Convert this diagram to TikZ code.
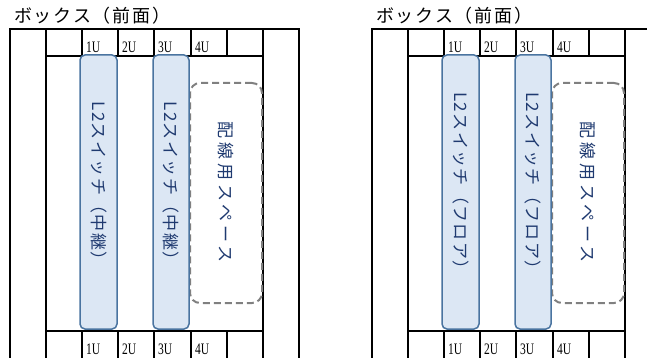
\documentclass[tikz,border=0pt]{standalone}
\usepackage{fontspec}
\newfontfamily\jpfont[LetterSpace=8]{Noto Sans CJK JP}
\newfontfamily\wirefont[LetterSpace=24]{Noto Sans CJK JP}
\newfontfamily\titlefont[LetterSpace=10]{Noto Sans CJK JP}
\newfontfamily\ufont{Liberation Serif}
\definecolor{swfill}{HTML}{DCE7F4}
\definecolor{swline}{HTML}{4A74A0}
\definecolor{txtblue}{HTML}{1F3A70}
\definecolor{dashgray}{HTML}{808080}
\begin{document}
\begin{tikzpicture}[x=1pt,y=-1pt,
  frame/.style={line width=2pt, black, line join=miter},
  switchbox/.style={draw=swline, fill=swfill, line width=1.5pt, rounded corners=5pt, inner sep=0pt},
  wirebox/.style={draw=dashgray, dash pattern=on 7pt off 4pt, line width=2pt, rounded corners=10pt, inner sep=0pt},
  vtext/.style={rotate=-90, text=txtblue, inner sep=0pt},
  ulabel/.style={anchor=base west, inner sep=0pt, font=\ufont\fontsize{16}{16}\selectfont},
  titlelabel/.style={anchor=base west, inner sep=0pt, font=\titlefont\fontsize{18}{18}\selectfont}]
\clip (0,0) rectangle (647,358);
\fill[white] (0,0) rectangle (647,358);
\foreach \ox/\kind/\nm in {0/中継/a, 362/フロア/b} {
  \begin{scope}[xshift=\ox pt]
    \node[titlelabel] (title\nm) at (14,23) {ボックス（前面）};
    % frame
    \draw[frame] (10,362) -- (10,29) -- (299,29) -- (299,362);
    \draw[frame] (46,29) -- (46,362);
    \draw[frame] (263,29) -- (263,362);
    \draw[frame] (46,56) -- (263,56);
    \draw[frame] (46,331) -- (263,331);
    \foreach \x in {82,118,154,191,227} {
      \draw[frame] (\x,29) -- (\x,56);
      \draw[frame] (\x,331) -- (\x,362);
    }
    \foreach \i/\x in {1/82,2/118,3/154,4/191} {
      \node[ulabel] (top\nm\i) at (\x+4,53) {\scalebox{0.72}[1]{\i U}};
      \node[ulabel] (bot\nm\i) at (\x+4,354) {\scalebox{0.72}[1]{\i U}};
    }
    % wiring space
    \node[wirebox, minimum width=72pt, minimum height=220pt] (wire\nm) at (226,193) {};
    \node[vtext, font=\wirefont\fontsize{17}{17}\selectfont] (wiretext\nm) at (226,192) {配線用スペース};
    % switches
    \node[switchbox, minimum width=37pt, minimum height=274pt] (swA\nm) at (98.5,192) {};
    \node[switchbox, minimum width=36pt, minimum height=274pt] (swB\nm) at (171,192) {};
    \node[vtext, font=\jpfont\fontsize{17}{17}\selectfont] (swAtext\nm) at (98.5,185) {L2スイッチ（\kind）};
    \node[vtext, font=\jpfont\fontsize{17}{17}\selectfont] (swBtext\nm) at (171,185) {L2スイッチ（\kind）};
  \end{scope}
}
\end{tikzpicture}
\end{document}
